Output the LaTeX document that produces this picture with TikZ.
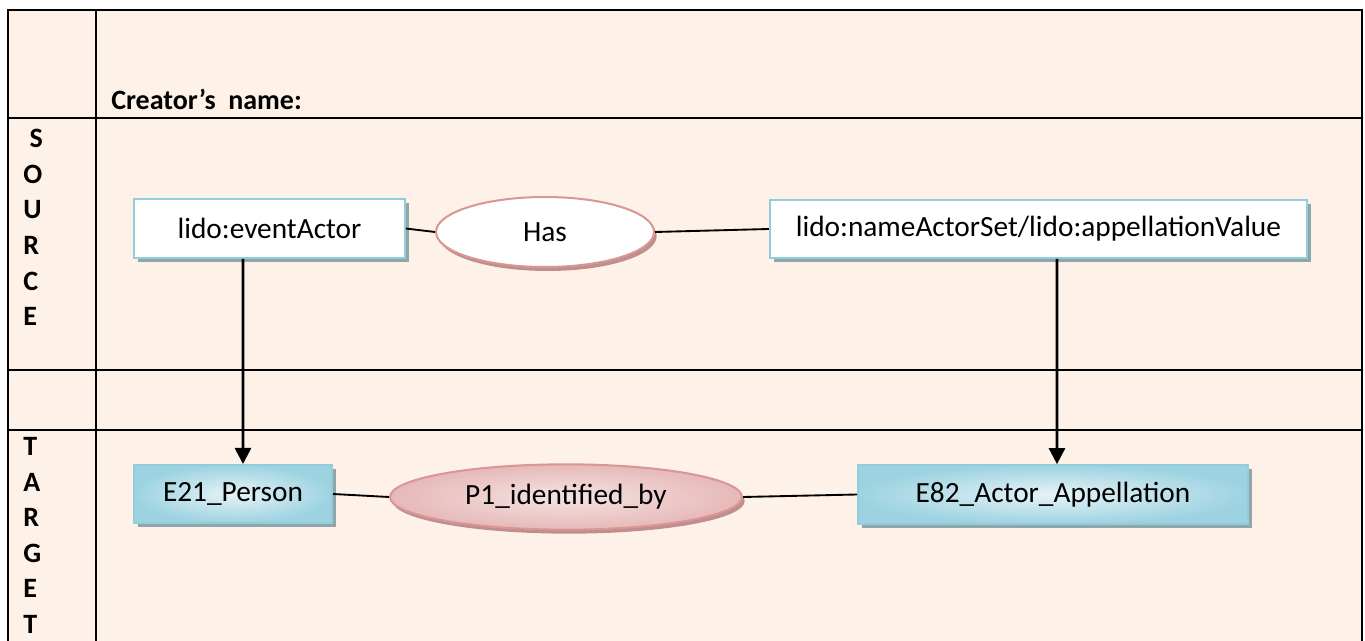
\documentclass[tikz,border=0pt]{standalone}
\usepackage{fontspec}
\setmainfont{Carlito}
\usetikzlibrary{arrows.meta,shapes.geometric,shadows}
\definecolor{bgpeach}{HTML}{FDF1E8}
\definecolor{boxline}{HTML}{93CDDD}
\definecolor{boxshadow}{HTML}{8FA6AB}
\definecolor{tgtdark}{HTML}{9DD3E1}
\definecolor{tgtlight}{HTML}{E6F3F7}
\definecolor{ellline}{HTML}{D99694}
\definecolor{ellshadow}{HTML}{BF8F8E}
\definecolor{elldark}{HTML}{E6B9B8}
\definecolor{elllight}{HTML}{F5E3E3}

\begin{document}
\begin{tikzpicture}[x=0.75pt,y=-0.75pt,
            srcbox/.style={rectangle, draw=boxline, fill=white, line width=1.5pt, inner sep=0pt, font=\fontsize{22}{26}\selectfont,
                drop shadow={shadow xshift=3pt, shadow yshift=-3pt, fill=boxshadow, opacity=1}},
            tgtbox/.style={rectangle, draw=boxline, inner color=tgtlight, outer color=tgtdark, line width=1.5pt, inner sep=0pt, font=\fontsize{22}{26}\selectfont,
                drop shadow={shadow xshift=3pt, shadow yshift=-3pt, fill=boxshadow, opacity=1}},
            srcell/.style={ellipse, draw=ellline, fill=white, line width=1.5pt, inner sep=0pt, font=\fontsize{22}{26}\selectfont,
                drop shadow={shadow xshift=2pt, shadow yshift=-3pt, fill=ellshadow, opacity=1}},
            tgtell/.style={ellipse, draw=ellline, inner color=elllight, outer color=elldark, line width=1.5pt, inner sep=0pt, font=\fontsize{22}{26}\selectfont,
                drop shadow={shadow xshift=2pt, shadow yshift=-3pt, fill=ellshadow, opacity=1}},
            side/.style={align=left, inner sep=0pt, font=\fontsize{21}{26.7}\selectfont\bfseries},
            rule/.style={line width=2pt},
            link/.style={line width=1.4pt},
            arr/.style={line width=2pt, -{Triangle[width=12pt,length=12pt]}}]
        \useasboundingbox (0,0) rectangle (1365,641);
        \fill[bgpeach] (8,10) rectangle (1362,641);
        \draw[rule] (8,641) -- (8,10) -- (1362,10) -- (1362,641);
        \draw[rule] (96,10) -- (96,641);
        \draw[rule] (8,118) -- (1362,118);
        \draw[rule] (8,370) -- (1362,370);
        \draw[rule] (8,430) -- (1362,430);
        \node[side, anchor=base west] (creator) at (111,110) {Creator’s~ name:};
        \node[side, anchor=north west] (source) at (23,129) {\ S\\O\\U\\R\\C\\E};
        \node[side, anchor=north west] (target) at (23,437) {T\\A\\R\\G\\E\\T};
        \node[srcbox, minimum width=203pt, minimum height=44pt] (actor) at (269.5,228.5) {lido:eventActor};
        \node[srcell, minimum width=163.5pt, minimum height=52.5pt] (has) at (545,232) {Has};
        \node[srcbox, minimum width=403pt, minimum height=43.5pt] (nameset) at (1038.5,229) {lido:nameActorSet/lido:appellationValue};
        \node[tgtbox, minimum width=148.5pt, minimum height=43.5pt] (person) at (233,494) {E21\_Person};
        \node[tgtell, minimum width=264pt, minimum height=49pt] (ident) at (566,497) {P1\_identified\_by};
        \node[tgtbox, minimum width=292.5pt, minimum height=44pt] (appel) at (1053,494.5) {E82\_Actor\_Appellation};
        \draw[link] (actor.east) -- (has.west);
        \draw[link] (has.east) -- (nameset.west);
        \draw[link] (person.east) -- (ident.west);
        \draw[link] (ident.east) -- (appel.west);
        \draw[arr] ([xshift=-19.9pt]actor.south) -- ([xshift=7.5pt]person.north);
        \draw[arr] ([xshift=13.9pt]nameset.south) -- ([xshift=3pt]appel.north);
    \end{tikzpicture}
\end{document}
